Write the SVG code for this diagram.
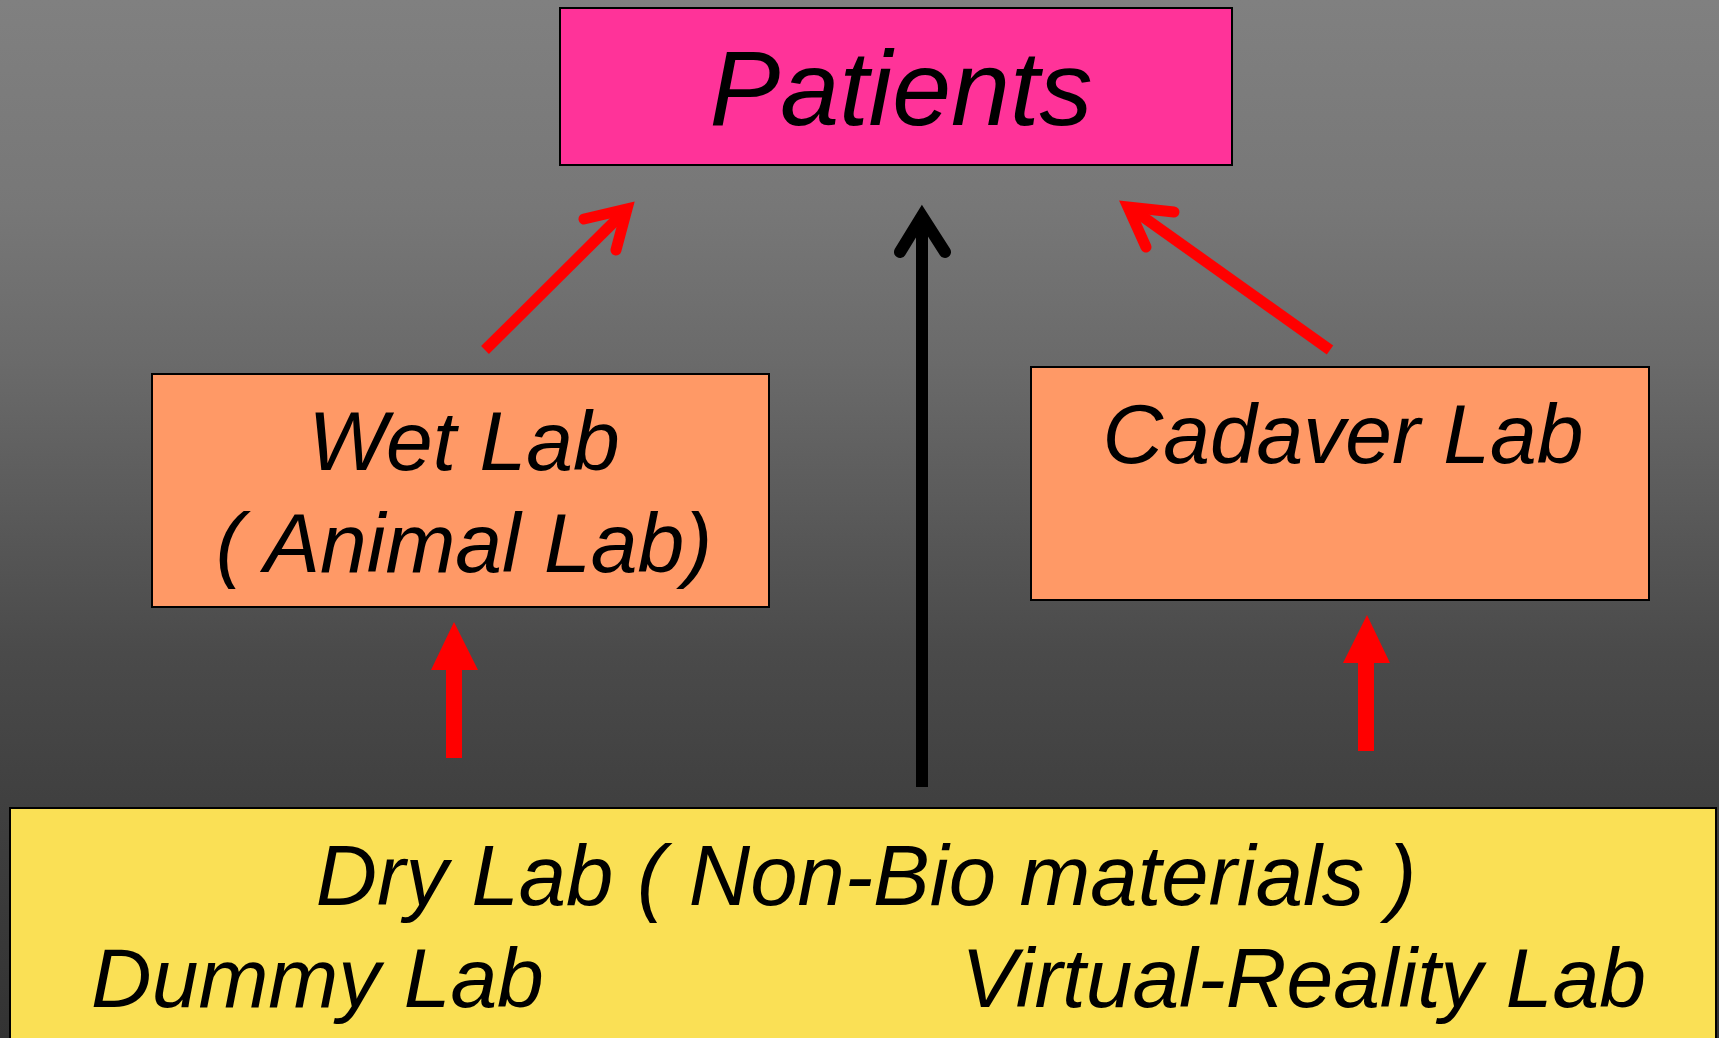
<svg xmlns="http://www.w3.org/2000/svg" width="1719" height="1038" viewBox="0 0 1719 1038">
<defs>
<linearGradient id="bg" x1="0" y1="0" x2="0" y2="1">
<stop offset="0" stop-color="#808080"/>
<stop offset="0.2" stop-color="#777777"/>
<stop offset="0.35" stop-color="#6a6a6a"/>
<stop offset="0.63" stop-color="#4a4a4a"/>
<stop offset="0.77" stop-color="#404040"/>
<stop offset="1" stop-color="#333333"/>
</linearGradient>
<style>
.box{stroke:#000;stroke-width:2}
.t{font-family:"Liberation Sans",Arial,sans-serif;font-style:italic;fill:#000}
.red{stroke:#ff0000;fill:none;stroke-width:11}
.blk{stroke:#000;fill:none;stroke-width:12}
.head{stroke-linecap:round;stroke-linejoin:miter;stroke-miterlimit:10;stroke-width:11}
</style>
</defs>
<rect x="0" y="0" width="1719" height="1038" fill="url(#bg)"/>
<g id="connectors">
<path class="red" d="M485 350 L624 212"/>
<path class="red head" d="M584 219 L627 209 L616 250"/>
<path class="red" d="M1330 350 L1132 209"/>
<path class="red head" d="M1174 212 L1128 207 L1146 247"/>
<path class="blk" d="M922 787 L922 218"/>
<path class="blk head" style="stroke-width:12" d="M900 252 L922 216 L945 252"/>
<path fill="#ff0000" d="M454 622 L478 670 L462 670 L462 758 L446 758 L446 670 L431 670 Z"/>
<path fill="#ff0000" d="M1367 615 L1390 663 L1374 663 L1374 751 L1358 751 L1358 663 L1343 663 Z"/>
</g>
<g id="patients">
<rect class="box" x="560" y="8" width="672" height="157" fill="#ff3399"/>
<text class="t" x="901" y="125" font-size="106" text-anchor="middle">Patients</text>
</g>
<g id="wetlab">
<rect class="box" x="152" y="374" width="617" height="233" fill="#ff9966"/>
<text class="t" x="464" y="470" font-size="84" text-anchor="middle">Wet Lab</text>
<text class="t" x="464" y="572" font-size="84" text-anchor="middle">( Animal Lab)</text>
</g>
<g id="cadaverlab">
<rect class="box" x="1031" y="367" width="618" height="233" fill="#ff9966"/>
<text class="t" x="1343" y="463" font-size="84" text-anchor="middle">Cadaver Lab</text>
</g>
<g id="drylab">
<rect class="box" x="10" y="808" width="1706" height="240" fill="#fae055"/>
<text class="t" x="866" y="905" font-size="85" text-anchor="middle">Dry Lab ( Non-Bio materials )</text>
<text class="t" x="91" y="1007" font-size="84">Dummy Lab</text>
<text class="t" x="1646" y="1007" font-size="84" text-anchor="end">Virtual-Reality Lab</text>
</g>
</svg>
